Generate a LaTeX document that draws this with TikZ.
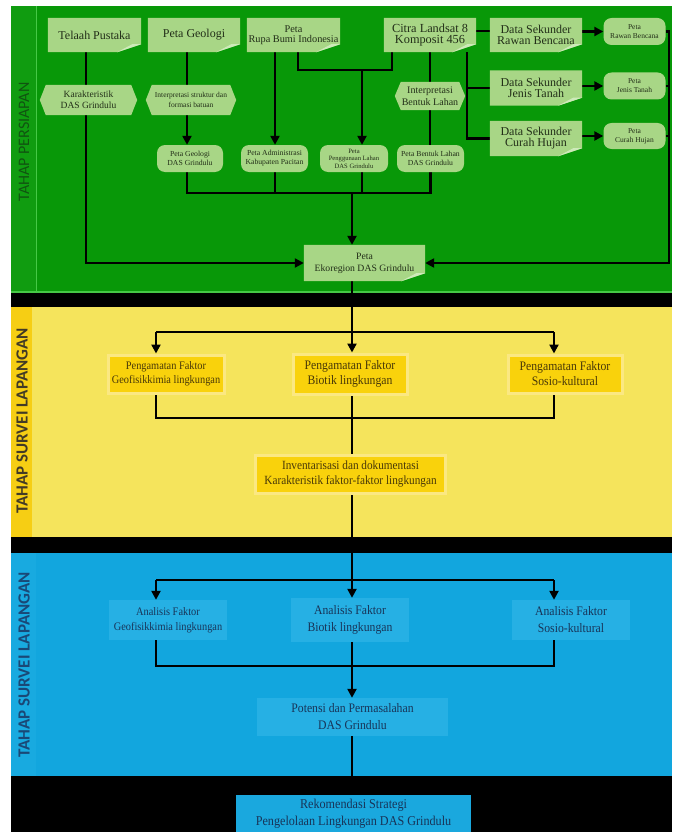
\documentclass[tikz,border=0pt]{standalone}
\usepackage{fontspec}
\setmainfont{Liberation Serif}
\newfontfamily\bxf[FakeStretch=0.9]{Liberation Serif}
\newfontfamily\labf{Carlito}
\usetikzlibrary{arrows.meta,calc}
\pgfdeclarelayer{bg}\pgfdeclarelayer{edges}\pgfdeclarelayer{shapes}
\pgfsetlayers{bg,edges,shapes,main}
\definecolor{pgreen}{RGB}{8,152,8}
\definecolor{pgreenS}{RGB}{16,156,16}
\definecolor{gline}{RGB}{70,200,70}
\definecolor{boxgreen}{RGB}{168,214,134}
\definecolor{boxfold}{RGB}{205,234,185}
\definecolor{gtext}{RGB}{34,46,24}
\definecolor{glab}{RGB}{16,84,16}
\definecolor{pyel}{RGB}{245,228,92}
\definecolor{pyelS}{RGB}{246,206,20}
\definecolor{ygold}{RGB}{249,210,12}
\definecolor{yhalo}{RGB}{251,232,130}
\definecolor{ytext}{RGB}{72,56,8}
\definecolor{ylab}{RGB}{66,58,38}
\definecolor{pblue}{RGB}{18,166,222}
\definecolor{pblueS}{RGB}{24,170,224}
\definecolor{bbox}{RGB}{38,176,228}
\definecolor{btext}{RGB}{24,52,88}
\definecolor{blab}{RGB}{26,72,118}
\definecolor{rekfill}{RGB}{26,168,222}
\newcommand\hexfill[1]{\begin{pgfonlayer}{shapes}\fill[boxgreen] (#1.west) -- ([xshift=6pt]#1.north west) -- ([xshift=-6pt]#1.north east) -- (#1.east) -- ([xshift=-6pt]#1.south east) -- ([xshift=6pt]#1.south west) -- cycle;\end{pgfonlayer}}
\newcommand\docfill[1]{\begin{pgfonlayer}{shapes}\fill[boxgreen] (#1.north west) -- (#1.north east) -- ([yshift=8pt]#1.south east) -- ([xshift=-24pt]#1.south east) -- (#1.south west) -- cycle;
\fill[boxfold] ([xshift=-24pt]#1.south east) -- ([yshift=8pt]#1.south east) -- ([xshift=-9pt,yshift=8pt]#1.south east) -- cycle;\end{pgfonlayer}}
\begin{document}
\begin{tikzpicture}[x=1pt,y=-1pt,
  sz/.style 2 args={minimum width=#1pt,minimum height=#2pt},
  fs/.style 2 args={font=\fontsize{#1}{#2}\selectfont},
  bf/.style 2 args={font=\bxf\fontsize{#1}{#2}\selectfont},
  gnode/.style={rectangle,inner sep=0pt,align=center,text=gtext},
  rbox/.style={gnode,fill=boxgreen,rounded corners=8pt},
  ybox/.style={rectangle,inner sep=0pt,align=center,fill=ygold,draw=yhalo,line width=3pt,text=ytext},
  bbx/.style={rectangle,inner sep=0pt,align=center,fill=bbox,text=btext},
  lab/.style={rotate=90,inner sep=0pt},
  ln/.style={draw=black,line width=2.8pt},
  arr/.style={ln,-{Triangle[length=9pt,width=9pt]}}]
\useasboundingbox (0,0) rectangle (672,832);
\begin{pgfonlayer}{bg}
\fill[white] (0,0) rectangle (672,832);
\fill[pgreen] (11,6) rectangle (672,293);
\fill[pgreenS] (11,6) rectangle (36,293);
\draw[gline,line width=0.8pt] (36,6) -- (36,292);
\draw[gline,line width=1.2pt] (11,292) -- (672,292);
\fill[black] (11,293) rectangle (672,307);
\fill[pyel] (11,307) rectangle (672,537);
\fill[pyelS] (11,307) rectangle (32,537);
\fill[black] (11,537) rectangle (672,553);
\fill[pblue] (11,553) rectangle (672,776);
\fill[pblueS] (11,553) rectangle (36,776);
\fill[black] (11,776) rectangle (672,832);
\end{pgfonlayer}
% section labels
\node[lab,text=glab,font=\labf\fontsize{16}{16}\selectfont] (l1) at (24,142) {TAHAP PERSIAPAN};
\node[lab,text=ylab,font=\labf\bfseries\fontsize{17}{17}\selectfont] (l2) at (22,421) {TAHAP SURVEI LAPANGAN};
\node[lab,text=blab,font=\labf\bfseries\fontsize{17}{17}\selectfont] (l3) at (24,665) {TAHAP SURVEI LAPANGAN};
% green nodes
\node[gnode,sz={93}{34},fs={12}{12}] (tp) at (94.5,35) {Telaah Pustaka}; \docfill{tp}
\node[gnode,sz={92}{34},fs={12}{12}] (pg) at (194,35) {Peta Geologi}; \docfill{pg}
\node[gnode,sz={93}{34},fs={10.3}{10.5}] (prbi) at (293.5,35) {Peta\\Rupa Bumi Indonesia}; \docfill{prbi}
\node[gnode,sz={92}{34},fs={12.3}{11}] (cl) at (430,35) {Citra Landsat 8\\Komposit 456}; \docfill{cl}
\node[gnode,sz={92}{34},fs={12}{11}] (dsrb) at (536,35) {Data Sekunder\\Rawan Bencana}; \docfill{dsrb}
\node[gnode,sz={92}{35},fs={12}{11}] (dsjt) at (536,88) {Data Sekunder\\Jenis Tanah}; \docfill{dsjt}
\node[gnode,sz={92}{35},fs={12}{11}] (dsch) at (536,138.5) {Data Sekunder\\Curah Hujan}; \docfill{dsch}
\node[rbox,sz={62}{27},fs={7.5}{9}] (prb) at (634.5,31.5) {Peta\\Rawan Bencana};
\node[rbox,sz={62}{27},fs={7.5}{9}] (pjt) at (634.5,86) {Peta\\Jenis Tanah};
\node[rbox,sz={62}{26},fs={7.5}{9}] (pch) at (634.5,136) {Peta\\Curah Hujan};
\node[gnode,sz={97}{30},fs={9.5}{11}] (kar) at (88.5,100) {Karakteristik\\DAS Grindulu}; \hexfill{kar}
\node[gnode,sz={90}{30},fs={7.5}{10}] (isf) at (191,100) {Interpretasi struktur dan\\formasi batuan}; \hexfill{isf}
\node[gnode,sz={70}{28},fs={10}{12}] (ibl) at (430,96) {Interpretasi\\Bentuk Lahan}; \hexfill{ibl}
\node[rbox,sz={66}{27},fs={7.7}{9}] (pgd) at (190,158.5) {Peta Geologi\\DAS Grindulu};
\node[rbox,sz={67}{27},fs={7.7}{9}] (pak) at (274.5,158.5) {Peta Administrasi\\Kabupaten Pacitan};
\node[rbox,sz={68}{27},fs={6.6}{7.6}] (ppl) at (354,158.5) {Peta\\Penggunaan Lahan\\DAS Grindulu};
\node[rbox,sz={67}{27},fs={7.7}{9}] (pbl) at (430.5,158.5) {Peta Bentuk Lahan\\DAS Grindulu};
\node[gnode,sz={121}{36},fs={9.7}{12}] (eko) at (364.5,263) {Peta\\Ekoregion DAS Grindulu}; \docfill{eko}
% yellow nodes
\node[ybox,sz={116}{38},bf={11.5}{14}] (ygeo) at (166,374) {Pengamatan Faktor\\Geofisikkimia lingkungan};
\node[ybox,sz={114}{40},bf={13}{15}] (ybio) at (350,374) {Pengamatan Faktor\\Biotik lingkungan};
\node[ybox,sz={114}{38},bf={13}{15}] (ysos) at (565,374) {Pengamatan Faktor\\Sosio-kultural};
\node[ybox,sz={190}{38},bf={12.5}{15}] (inv) at (350.5,474) {Inventarisasi dan dokumentasi\\Karakteristik faktor-faktor lingkungan};
% blue nodes
\node[bbx,sz={118}{40},bf={11.5}{15}] (ageo) at (168,620) {Analisis Faktor\\Geofisikkimia lingkungan};
\node[bbx,sz={118}{44},bf={13}{17}] (abio) at (350,620) {Analisis Faktor\\Biotik lingkungan};
\node[bbx,sz={118}{40},bf={13}{17}] (asos) at (571,620) {Analisis Faktor\\Sosio-kultural};
\node[bbx,sz={191}{38},bf={13}{17}] (pot) at (352.5,717) {Potensi dan Permasalahan\\DAS Grindulu};
\node[rectangle,inner sep=0pt,align=center,fill=rekfill,text=btext,sz={235}{38},bf={13.5}{17}] (rek) at (353.5,814) {Rekomendasi Strategi\\Pengelolaan Lingkungan DAS Grindulu};
% connectors
\begin{pgfonlayer}{edges}
\coordinate (X86) at (86,0); \coordinate (X187) at (187,0); \coordinate (X275) at (275,0);
\coordinate (X298) at (298,0); \coordinate (X352) at (352,0);
\coordinate (jR) at (392,70); \coordinate (jP) at (362,70); \coordinate (jC) at (467,0);
\coordinate (rE) at (669,263); \coordinate (bk) at (0,193);
\draw[arr] (tp.south -| X86) |- (eko.west);
\draw[arr] (pg.south -| X187) -- (pgd.north -| X187);
\draw[arr] (prbi.south -| X275) -- (pak.north -| X275);
\draw[ln] (prbi.south -| X298) |- (jR) -- (jR |- cl.south);
\draw[arr] (jP) -- (ppl.north -| jP);
\draw[ln] (cl.south) -- (pbl.north -| cl.south);
\draw[ln] (cl.south -| jC) |- (dsch.west);
\draw[ln] (dsjt.west -| jC) -- (dsjt.west);
\draw[ln] ([yshift=4pt]cl.east) -- ([yshift=4pt]dsrb.west);
\draw[arr] (prb.west -| dsrb.east) -- (prb.west);
\draw[arr] (pjt.west -| dsjt.east) -- (pjt.west);
\draw[arr] (pch.west -| dsch.east) -- (pch.west);
\draw[arr] (prb.east) -| (rE) -- (eko.east);
\draw[ln] (pjt.east) -- (pjt.east -| rE);
\draw[ln] (pch.east) -- (pch.east -| rE);
\draw[ln] (pgd.south -| X187) |- (pbl.south |- bk) -- (pbl.south);
\draw[ln] (pak.south -| X275) -- (X275 |- bk);
\draw[ln] (ppl.south -| jP) -- (jP |- bk);
\draw[arr] (X352 |- bk) -- (eko.north -| X352);
% yellow
\coordinate (YA) at (156,332); \coordinate (YB) at (554,332);
\coordinate (YC) at (156,418); \coordinate (YD) at (554,418);
\draw[arr] (eko.south -| X352) -- (ybio.north -| X352);
\draw[ln] (YA) -- (YB);
\draw[arr] (YA) -- (ygeo.north -| YA);
\draw[arr] (YB) -- (ysos.north -| YB);
\draw[ln] (ygeo.south -| YC) |- (YD) -- (ysos.south -| YD);
\draw[ln] (ybio.south -| X352) -- (inv.north -| X352);
% blue
\coordinate (BA) at (156,580); \coordinate (BB) at (554,580);
\coordinate (BC) at (156,666); \coordinate (BD) at (554,666);
\draw[arr] (inv.south -| X352) -- (abio.north -| X352);
\draw[ln] (BA) -- (BB);
\draw[arr] (BA) -- (ageo.north -| BA);
\draw[arr] (BB) -- (asos.north -| BB);
\draw[ln] (ageo.south -| BC) |- (BD) -- (asos.south -| BD);
\draw[arr] (abio.south -| X352) -- (pot.north -| X352);
\draw[arr] (pot.south -| X352) -- (rek.north -| X352);
\end{pgfonlayer}
\end{tikzpicture}
\end{document}
